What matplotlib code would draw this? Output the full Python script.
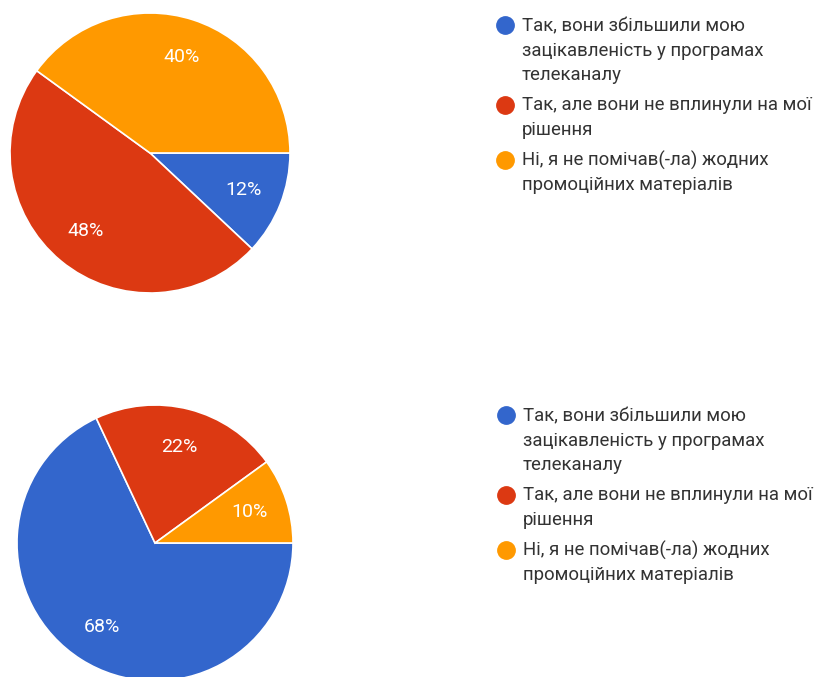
import matplotlib
matplotlib.use("Agg")
import matplotlib.pyplot as plt

plt.rcParams['font.family'] = ['Roboto', 'DejaVu Sans']

W, H = 814, 677

categories = [
    "Так, вони збільшили мою\nзацікавленість у програмах\nтелеканалу",
    "Так, але вони не вплинули на мої\nрішення",
    "Ні, я не помічав(-ла) жодних\nпромоційних матеріалів",
]
colors = ["#3366CC", "#DC3912", "#FF9900"]

top_shares = [12, 48, 40]
bottom_shares = [68, 22, 10]


def frac(x, y):
    # pixel position (from top-left) -> figure fraction
    return x / W, 1 - y / H


def draw_pie(cx, cy, r, shares):
    left, bottom = frac(cx - r, cy + r)
    ax = fig.add_axes([left, bottom, 2 * r / W, 2 * r / H])
    ax.pie(shares, colors=colors, startangle=0, counterclock=False,
           autopct=lambda p: f"{p:.0f}%", pctdistance=0.72,
           wedgeprops=dict(edgecolor="white", linewidth=1.2),
           textprops=dict(color="white", fontsize=14))
    ax.set_xlim(-1, 1)
    ax.set_ylim(-1, 1)
    ax.set_aspect("auto")
    ax.axis("off")


def draw_legend(x, y):
    # y is baseline of the first line
    for label, color in zip(categories, colors):
        bx, by = frac(x - 17, y - 6)
        fig.add_artist(plt.Line2D([bx], [by], marker="o", markersize=12.5,
                                  color=color, linestyle="none",
                                  transform=fig.transFigure))
        for line in label.split("\n"):
            tx, ty = frac(x, y)
            fig.text(tx, ty, line, fontsize=13.4, color="#333333",
                     ha="left", va="baseline")
            y += 24.5
        y += 30.5 - 24.5


fig = plt.figure(figsize=(W / 100, H / 100), dpi=100)
fig.patch.set_facecolor("white")

draw_pie(150, 153, 140, top_shares)
draw_pie(155, 543, 138, bottom_shares)

draw_legend(522, 31)
draw_legend(523, 421)

fig.savefig("out.png", dpi=100, facecolor="white")
